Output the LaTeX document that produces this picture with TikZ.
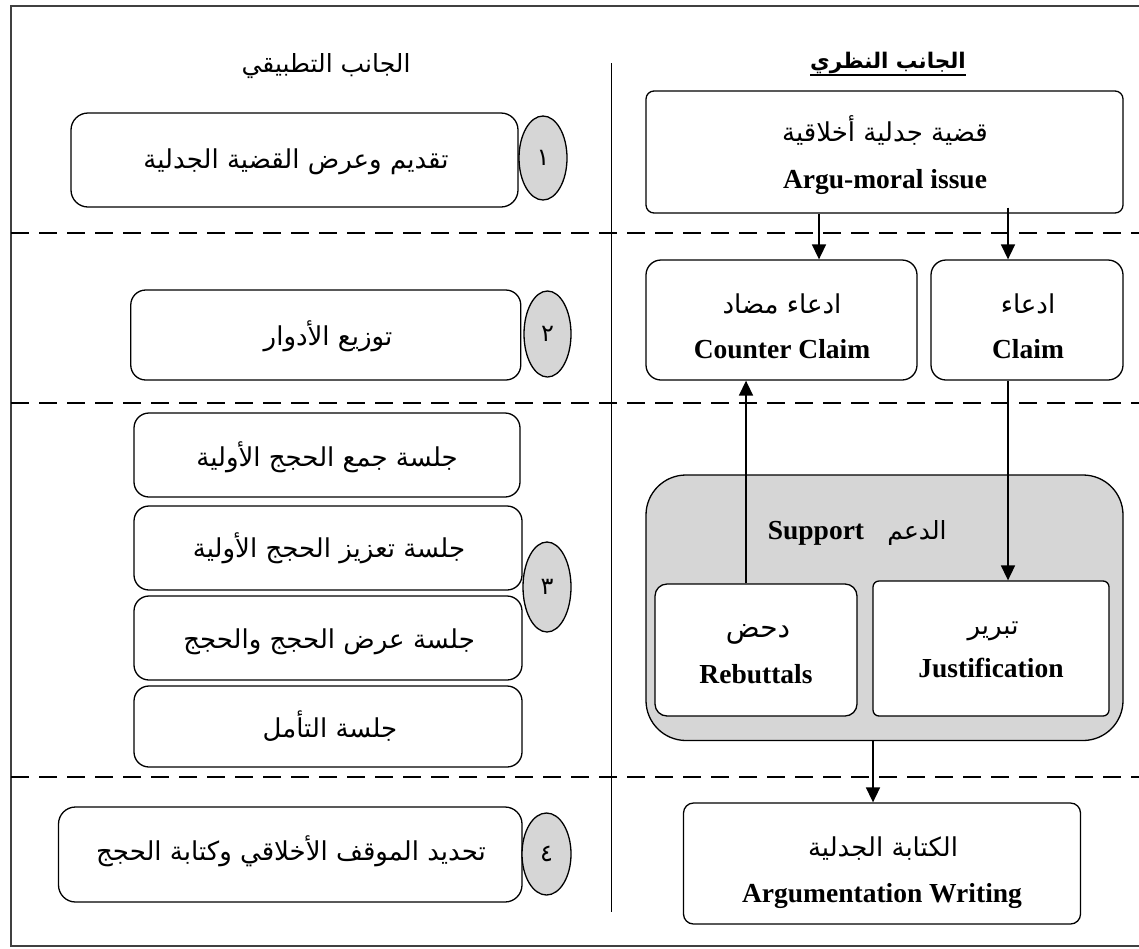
\documentclass[tikz,border=0pt]{standalone}
\usepackage{fontspec}
\usetikzlibrary{arrows.meta,shapes.geometric}
\TeXXeTstate=1
\newfontfamily\arfont[Script=Arabic]{DejaVu Sans}
\newfontfamily\enfont{Liberation Serif}
\definecolor{cgray}{HTML}{D6D6D6}
\definecolor{framec}{HTML}{404040}
\begin{document}
\begin{tikzpicture}[x=1pt,y=-1pt,
  box/.style={draw=black, line width=1.3pt, fill=white, inner sep=0pt},
  ar/.style={font=\arfont\fontsize{26}{30}\selectfont, inner sep=0pt, anchor=base},
  arh/.style={font=\arfont\fontsize{25}{29}\selectfont, inner sep=0pt, anchor=base},
  en/.style={font=\enfont\bfseries\fontsize{27.5}{30}\selectfont, inner sep=0pt, anchor=base},
  num/.style={draw=black, ellipse, fill=cgray, line width=1.3pt, inner sep=0pt, font=\arfont\fontsize{24}{26}\selectfont},
  sepline/.style={line width=1.6pt, dash pattern=on 18pt off 10pt},
  arr/.style={line width=1.6pt, -{Triangle[length=15pt,width=14pt]}},
  framel/.style={draw=framec, line width=1.6pt}
]
\useasboundingbox (0,0) rectangle (1139,948);
\begin{scope}
\clip (0,0) rectangle (1139,948);
\draw[framel] (11,6) rectangle (1160,946);
\end{scope}

% separators
\draw[sepline] (11,233) -- (1139,233);
\draw[sepline] (11,403) -- (1139,403);
\draw[sepline] (11,777) -- (1139,777);
\draw[line width=1.3pt] (611.5,63) -- (611.5,912);

% headers
\node[arh] (hl) at (326,72) {\beginR الجانب التطبيقي\endR};
\node[arh, font=\arfont\bfseries\fontsize{21.5}{25}\selectfont] (hr) at (888,68) {\beginR الجانب النظري\endR};
\draw[line width=1.3pt] ([yshift=-7pt]hr.base west) -- ([yshift=-7pt]hr.base east);

% left column
\node[box, rounded corners=17pt, minimum width=447pt, minimum height=94pt] (b1) at (294.5,160) {};
\node[num, minimum width=48pt, minimum height=84pt] (c1) at (543,158) {١};
\node[ar] (t1) at (296,168) {\beginR تقديم وعرض القضية الجدلية\endR};

\node[box, rounded corners=15pt, minimum width=390pt, minimum height=90pt] (b2) at (325.75,335) {};
\node[num, minimum width=47pt, minimum height=86pt] (c2) at (547.5,334) {٢};
\node[ar] (t2) at (328,345) {\beginR توزيع الأدوار\endR};

\node[box, rounded corners=15pt, minimum width=386pt, minimum height=84pt] (b3a) at (327,455) {};
\node[ar] (t3a) at (327,466.5) {\beginR جلسة جمع الحجج الأولية\endR};
\node[box, rounded corners=15pt, minimum width=388pt, minimum height=84pt] (b3b) at (328,548) {};
\node[ar] (t3b) at (329,557) {\beginR جلسة تعزيز  الحجج الأولية\endR};
\node[box, rounded corners=15pt, minimum width=388pt, minimum height=84pt] (b3c) at (328,638) {};
\node[ar] (t3c) at (329,648) {\beginR جلسة عرض الحجج والحجج\endR};
\node[box, rounded corners=15pt, minimum width=388pt, minimum height=81pt] (b3d) at (328,726.5) {};
\node[ar] (t3d) at (330,737) {\beginR جلسة التأمل\endR};
\node[num, minimum width=48pt, minimum height=90pt] (c3) at (547,587) {٣};

\node[box, rounded corners=17pt, minimum width=463.5pt, minimum height=95pt] (b4) at (290.25,854.5) {};
\node[num, minimum width=49pt, minimum height=82pt] (c4) at (546.5,854) {٤};
\node[ar] (t4) at (291,860) {\beginR تحديد الموقف الأخلاقي وكتابة الحجج\endR};

% right column
\node[box, rounded corners=8pt, minimum width=477pt, minimum height=122pt] (issue) at (884.5,152) {};
\node[ar] (issueA) at (885,141) {\beginR قضية جدلية أخلاقية\endR};
\node[en] (issueE) at (885,188) {Argu-moral issue};

\node[box, rounded corners=15pt, minimum width=271pt, minimum height=120pt] (cc) at (781.5,320) {};
\node[ar] (ccA) at (782,313) {\beginR ادعاء مضاد\endR};
\node[en] (ccE) at (782,358) {Counter Claim};

\node[box, rounded corners=15pt, minimum width=192pt, minimum height=120pt] (claim) at (1027,320) {};
\node[ar] (claimA) at (1028,313) {\beginR ادعاء\endR};
\node[en] (claimE) at (1028,358) {Claim};

\node[box, fill=cgray, rounded corners=40pt, minimum width=477pt, minimum height=265.5pt] (sup) at (884.5,607.75) {};
\node[en] (supE) at (816,539) {Support};
\node[ar, font=\arfont\fontsize{25}{29}\selectfont] (supA) at (917,539) {\beginR الدعم\endR};

\node[box, rounded corners=12pt, minimum width=202pt, minimum height=132pt] (reb) at (756,650) {};
\node[ar, font=\arfont\fontsize{28}{32}\selectfont] (rebA) at (758,637) {\beginR دحض\endR};
\node[en] (rebE) at (756,683.5) {Rebuttals};

\node[box, rounded corners=6pt, minimum width=236pt, minimum height=135pt] (just) at (991,648.5) {};
\node[ar] (justA) at (993,634) {\beginR تبرير\endR};
\node[en] (justE) at (991,677.5) {Justification};

\node[box, rounded corners=10pt, minimum width=397pt, minimum height=121pt] (arg) at (882,863.5) {};
\node[ar] (argA) at (883,856) {\beginR الكتابة الجدلية\endR};
\node[en] (argE) at (882,902.5) {Argumentation Writing};

% connectors
\coordinate (xl) at ([xshift=37.5pt]cc.north);
\coordinate (xr) at ([xshift=-19pt]claim.north);
\coordinate (xb) at ([xshift=-10pt]reb.north);
\coordinate (xa) at ([xshift=-9pt]arg.north);
\draw[arr] (xl |- issue.south) -- (xl);
\draw[arr] ([yshift=6pt]xr |- issue.south) -- (xr);
\draw[arr] (xr |- claim.south) -- (xr |- just.north);
\draw[arr] (xb) -- (xb |- cc.south);
\draw[arr] (xa |- sup.south) -- (xa);
\end{tikzpicture}
\end{document}
